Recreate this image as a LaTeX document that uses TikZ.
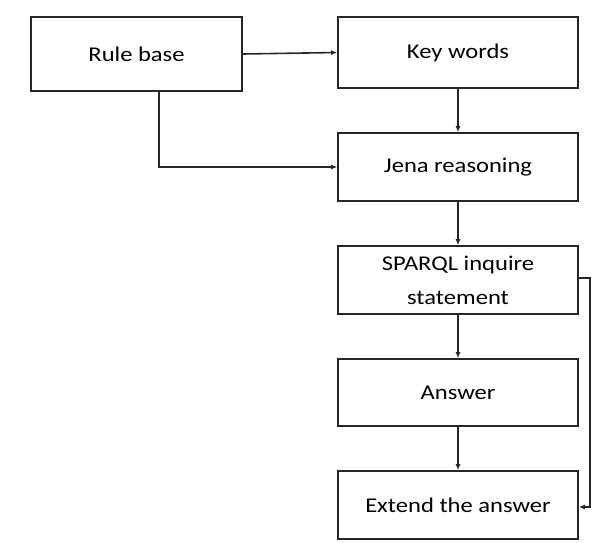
\documentclass[tikz,border=0pt]{standalone}
\usepackage{fontspec}
\setmainfont{Carlito}[FakeStretch=1.17]
\usetikzlibrary{arrows.meta}
\begin{document}
\begin{tikzpicture}[x=1pt,y=-1pt,
  box/.style={draw=black!85,line width=1.6pt,inner sep=0pt,align=center,font=\fontsize{21}{34}\selectfont},
  conn/.style={draw=black!85,line width=1.6pt,-{Latex[length=6pt,width=5pt]}}]
\useasboundingbox (0,0) rectangle (602,543);
\node[box,minimum width=211pt,minimum height=74pt] (rule) at (136.5,54) {Rule base};
\node[box,minimum width=240pt,minimum height=71pt] (key) at (458,52.5) {Key words};
\node[box,minimum width=240pt,minimum height=68pt] (jena) at (458,167) {Jena reasoning};
\node[box,minimum width=240pt,minimum height=68pt] (sparql) at (458,280) {SPARQL inquire\\statement};
\node[box,minimum width=240pt,minimum height=67pt] (ans) at (458,392.5) {Answer};
\node[box,minimum width=240pt,minimum height=68pt] (ext) at (458,505) {Extend the answer};
\draw[conn] (rule.east) -- (key.west);
\draw[conn] (rule.south -| 159,0) |- (jena.west);
\draw[conn] (key) -- (jena);
\draw[conn] (jena) -- (sparql);
\draw[conn] (sparql) -- (ans);
\draw[conn] (ans) -- (ext);
\coordinate (fb) at (590,278);
\draw[conn] (sparql.east |- fb) -- (fb) -- (fb |- 0,507) -- (ext.east |- 0,507);
\end{tikzpicture}
\end{document}
